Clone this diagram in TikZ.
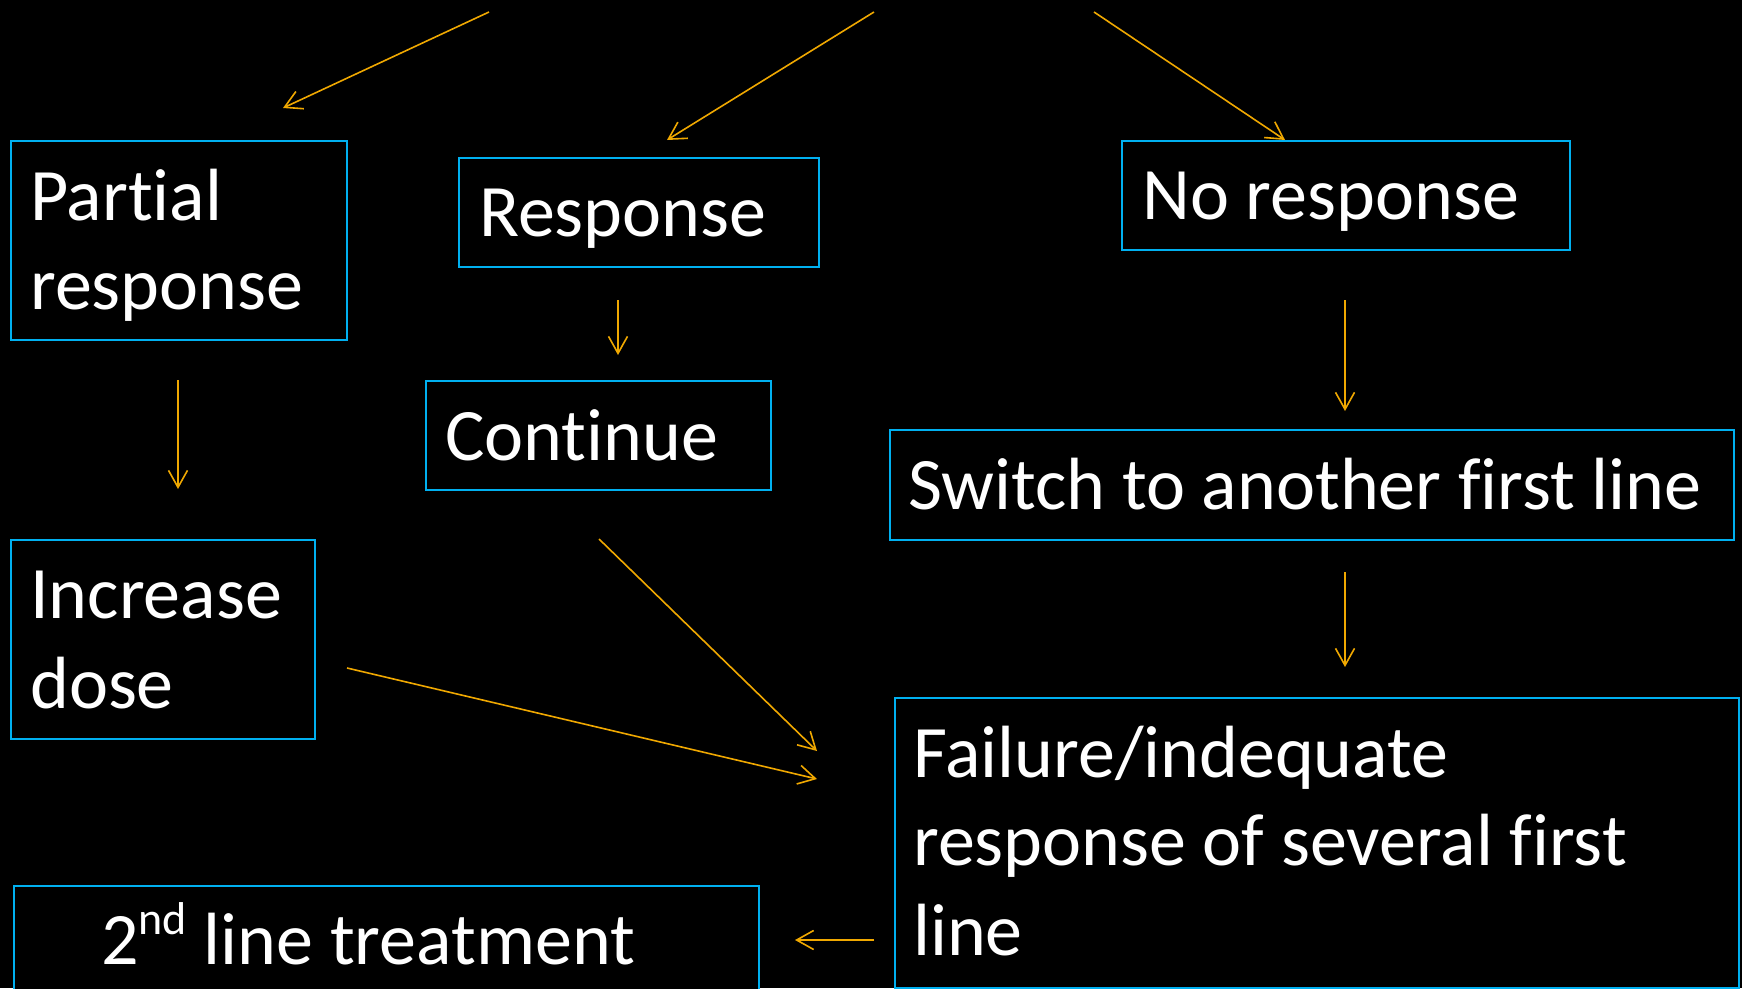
\documentclass[tikz,border=0pt]{standalone}
\usepackage{fontspec}
\setmainfont{Carlito}[Ligatures={NoCommon}]
\usetikzlibrary{arrows.meta}
\definecolor{boxblue}{RGB}{0,176,240}
\definecolor{arrorange}{RGB}{240,168,0}
\tikzset{
  box/.style={draw=boxblue, line width=2pt, fill=black, inner sep=0pt, anchor=north west},
  lbl/.style={text=white, inner sep=0pt, anchor=base west, font=\fontsize{74}{88}\selectfont},
  conn/.style={draw=arrorange, line width=1.6pt, -{Straight Barb[length=17pt,width=19pt,line width=1.6pt]}}
}
\begin{document}
\begin{tikzpicture}[x=1pt,y=-1pt]
\fill[black] (0,0) rectangle (1742,988);
\useasboundingbox (0,0) rectangle (1742,988);
\clip (0,0) rectangle (1742,988);

% boxes
\node[box, minimum width=336pt, minimum height=199pt] (partial) at (10,140) {};
\node[box, minimum width=360pt, minimum height=109pt] (response) at (458,157) {};
\node[box, minimum width=448pt, minimum height=109pt] (noresp) at (1121,140) {};
\node[box, minimum width=345pt, minimum height=109pt] (continue) at (425,380) {};
\node[box, minimum width=844pt, minimum height=110pt] (switch) at (889,429) {};
\node[box, minimum width=304pt, minimum height=199pt] (increase) at (10,539) {};
\node[box, minimum width=844pt, minimum height=290pt] (failure) at (894,697) {};
\node[box, minimum width=745pt, minimum height=130pt] (second) at (13,885) {};

% texts
\node[lbl] (tpartial1) at (30,220) {Partial};
\node[lbl] (tpartial2) at (30,309) {response};
\node[lbl] (tresponse) at (479,236) {Response};
\node[lbl] (tnoresp) at (1142,219) {No response};
\node[lbl] (tcontinue) at (445,460) {Continue};
\node[lbl] (tswitch) at (908,509) {Switch to another first line};
\node[lbl] (tincrease1) at (30,618) {Increase};
\node[lbl] (tincrease2) at (30,708) {dose};
\node[lbl] (tfail1) at (913,777) {Failure/indequate};
\node[lbl] (tfail2) at (913,865) {response of several first};
\node[lbl] (tfail3) at (913,955) {line};
\node[lbl] (tsecond) at (101,964) {2\raisebox{30pt}{\fontsize{46}{46}\selectfont nd} line treatment};

% connector end points
\coordinate (a1s) at (489,12);   \coordinate (a1e) at (283,108);
\coordinate (a2s) at (874,12);   \coordinate (a2e) at (667,140);
\coordinate (a3s) at (1094,12);  \coordinate (a3e) at (1285,140);
\coordinate (a4s) at (618,300);  \coordinate (a4e) at (618,355);
\coordinate (a5s) at (178,380);  \coordinate (a5e) at (178,489);
\coordinate (a6s) at (1345,300); \coordinate (a6e) at (1345,411);
\coordinate (a7s) at (1345,572); \coordinate (a7e) at (1345,667);
\coordinate (a8s) at (599,539);  \coordinate (a8e) at (817,751);
\coordinate (a9s) at (347,668);  \coordinate (a9e) at (817,779);
\coordinate (a10s) at (874,940); \coordinate (a10e) at (795,940);

\draw[conn] (a1s) -- (a1e);
\draw[conn] (a2s) -- (a2e);
\draw[conn] (a3s) -- (a3e);
\draw[conn] (a4s) -- (a4e);
\draw[conn] (a5s) -- (a5e);
\draw[conn] (a6s) -- (a6e);
\draw[conn] (a7s) -- (a7e);
\draw[conn] (a8s) -- (a8e);
\draw[conn] (a9s) -- (a9e);
\draw[conn] (a10s) -- (a10e);
\end{tikzpicture}
\end{document}
